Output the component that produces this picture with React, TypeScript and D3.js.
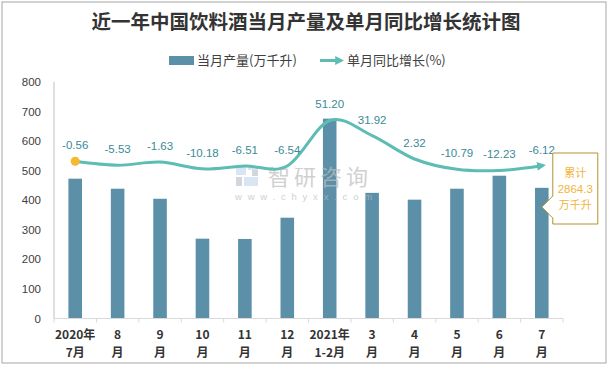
import * as d3 from "d3";

// categories (two-line labels) and values
const labelTop = ["2020年", "8", "9", "10", "11", "12", "2021年", "3", "4", "5", "6", "7"];
const labelBottom = ["7月", "月", "月", "月", "月", "月", "1-2月", "月", "月", "月", "月", "月"];
const output = [473, 439, 405, 270, 269, 341, 676, 425, 402, 439, 483, 442];
const yoy = [-0.56, -5.53, -1.63, -10.18, -6.51, -6.54, 51.2, 31.92, 2.32, -10.79, -12.23, -6.12];
const yTicks = [0, 100, 200, 300, 400, 500, 600, 700, 800];
const total = "2864.3";

const W = 611;
const H = 367;
const barColor = "#5b90a8";
const lineColor = "#5dbdb5";
const labelColor = "#3b8a97";
const noteColor = "#f2b53a";
const font = "'Liberation Sans', Arial, sans-serif";
const cjk = "'Noto Sans CJK SC', 'Noto Sans', sans-serif";

export default function App() {
  const cats = labelTop.map((d, i) => `${i}`);
  const margin = { left: 54, right: 48, top: 82, bottom: 48.5 };

  const x = d3.scaleBand<string>()
    .domain(cats)
    .range([margin.left, W - margin.right])
    .paddingInner(0.68)
    .paddingOuter(0.34);

  const y = d3.scaleLinear().domain([0, 800]).range([H - margin.bottom, margin.top]);
  const y2 = d3.scaleLinear().domain([-200, 100]).range([H - margin.bottom, margin.top]);

  const cx = (i: number) => (x(cats[i]) as number) + x.bandwidth() / 2;
  const step = x.step();

  const line = d3.line<number>()
    .x((_, i) => cx(i))
    .y(d => y2(d))
    .curve(d3.curveCardinal);

  const lastX = cx(yoy.length - 1);
  // callout box next to the last point
  const bx0 = lastX + 11, bx1 = bx0 + 45, by0 = 153, by1 = 224;
  const callout = `M${bx0},${by0} H${bx1} V${by1} H${bx0} V218 L${lastX},207 L${bx0},196 Z`;

  return (
    <svg width={W} height={H} style={{ position: "absolute", left: 0, top: 0, background: "#fff" }}>
      <defs>
        <marker id="arrow" markerWidth="3" markerHeight="3" refX="1.6" refY="1.5" orient="auto" markerUnits="strokeWidth">
          <path d="M0,0 L3,1.5 L0,3 Z" fill={lineColor} />
        </marker>
      </defs>
      <rect x={0} y={0} width={W} height={H} fill="#fff" />
      <rect x={2} y={2} width={604} height={361} fill="none" stroke="#a6a6a6" strokeWidth={1} />

      <text x={306} y={29} textAnchor="middle" fontFamily={cjk} fontWeight="bold" fontSize={19.5} fill="#333">
        近一年中国饮料酒当月产量及单月同比增长统计图
      </text>

      {/* legend */}
      <rect x={169} y={56} width={25} height={9} fill={barColor} />
      <text x={197} y={65} fontFamily={cjk} fontSize={13} fill="#404040">当月产量(万千升)</text>
      <line x1={320} y1={60.5} x2={340} y2={60.5} stroke={lineColor} strokeWidth={3} markerEnd="url(#arrow)" />
      <text x={347} y={65} fontFamily={cjk} fontSize={13} fill="#404040">单月同比增长(%)</text>

      {/* y axis */}
      <line x1={margin.left} y1={margin.top} x2={margin.left} y2={H - margin.bottom} stroke="#bfbfbf" />
      {yTicks.map(t => (
        <text key={t} x={41} y={y(t)} dy="0.35em" textAnchor="end" fontFamily={font} fontSize={11.5} fill="#404040">{t}</text>
      ))}

      {/* bars */}
      {output.map((v, i) => (
        <rect key={i} x={x(cats[i])} y={y(v)} width={x.bandwidth()} height={y(0) - y(v)} fill={barColor} />
      ))}

      {/* watermark, semi-transparent over the bars */}
      <g opacity={0.7}>
        <rect x={236} y={166} width={10} height={9} fill="#c9dbee" />
        <rect x={248} y={166} width={10} height={4} fill="#c9dbee" />
        <rect x={252} y={170} width={6} height={6} fill="#bfc6cf" />
        <rect x={236} y={177} width={6} height={9} fill="#bfc6cf" />
        <rect x={244} y={177} width={14} height={9} fill="#c9dbee" />
        <text x={268} y={185} fontFamily={cjk} fontSize={22} fill="#bdbdbd" letterSpacing={4}>智研咨询</text>
        <text x={235} y={200} fontFamily={font} fontSize={9.5} fill="#bdbdbd" letterSpacing={5.8}>www.chyxx.com</text>
      </g>

      {/* x axis */}
      <line x1={margin.left} y1={y(0)} x2={W - margin.right} y2={y(0)} stroke="#d9d9d9" />
      {d3.range(cats.length + 1).map(i => (
        <line key={i} x1={margin.left + i * step} x2={margin.left + i * step} y1={y(0)} y2={y(0) + 4} stroke="#d9d9d9" />
      ))}
      {cats.map((c, i) => (
        <g key={c} fontFamily={cjk} fontWeight="bold" fontSize={12} fill="#333" textAnchor="middle">
          <text x={cx(i)} y={339}>{labelTop[i]}</text>
          <text x={cx(i)} y={357}>{labelBottom[i]}</text>
        </g>
      ))}

      {/* line */}
      <path d={line(yoy) as string} fill="none" stroke={lineColor} strokeWidth={3} markerEnd="url(#arrow)" />
      <circle cx={cx(0)} cy={y2(yoy[0])} r={4.5} fill="#f5b82e" />
      {yoy.map((v, i) => (
        <text key={i} x={cx(i)} y={y2(v) - 12} textAnchor="middle" fontFamily={font} fontSize={11.5} fill={labelColor}>
          {v.toFixed(2)}
        </text>
      ))}

      {/* total callout */}
      <path d={callout} fill="#fff" stroke="#b8902c" strokeWidth={1} />
      <g fontFamily={cjk} fontSize={11} fill={noteColor} textAnchor="middle">
        <text x={(bx0 + bx1) / 2} y={177}>累计</text>
        <text x={(bx0 + bx1) / 2} y={193} fontFamily={font} fontSize={11.5}>{total}</text>
        <text x={(bx0 + bx1) / 2} y={209}>万千升</text>
      </g>
    </svg>
  );
}
